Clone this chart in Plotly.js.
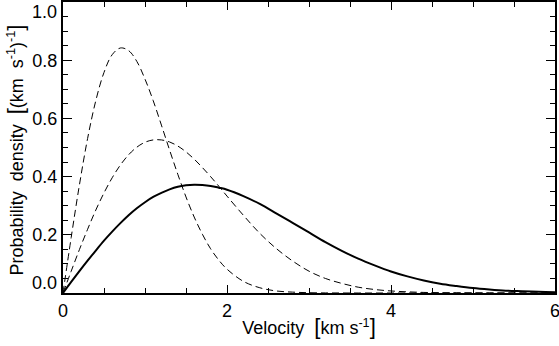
<!DOCTYPE html>
<html>
<head>
<meta charset="utf-8">
<script src="https://cdn.plot.ly/plotly-3.0.1.min.js"></script>
<style>
  body { margin: 0; padding: 0; background: #fff; }
  #plot { width: 559px; height: 346px; }
</style>
</head>
<body>
<div id="plot"></div>
<script>
// velocity grid (km/s)
var velocity = [0, 0.1, 0.2, 0.3, 0.4, 0.5, 0.6, 0.7, 0.8, 0.9, 1.0,
  1.1, 1.2, 1.3, 1.4, 1.5, 1.6, 1.7, 1.8, 1.9, 2.0,
  2.2, 2.4, 2.6, 2.8, 3.0, 3.2, 3.4, 3.6, 3.8, 4.0,
  4.2, 4.4, 4.6, 4.8, 5.0, 5.2, 5.4, 5.6, 5.8, 6.0];

// solid curve (peak ~0.37 at 1.6)
var densSolid = [0, 0.038, 0.075, 0.111, 0.146, 0.180, 0.211, 0.240, 0.267, 0.291, 0.312,
  0.330, 0.344, 0.356, 0.365, 0.370, 0.372, 0.371, 0.368, 0.362, 0.355,
  0.333, 0.306, 0.274, 0.241, 0.208, 0.175, 0.145, 0.118, 0.095, 0.074,
  0.057, 0.043, 0.032, 0.024, 0.017, 0.012, 0.008, 0.006, 0.004, 0.003];

// narrow dashed curve (peak ~0.84 at 0.7)
var densNarrow = [0, 0.191, 0.371, 0.531, 0.661, 0.758, 0.819, 0.842, 0.833, 0.796, 0.735,
  0.661, 0.577, 0.491, 0.408, 0.330, 0.261, 0.202, 0.152, 0.113, 0.082,
  0.040, 0.018, 0.007, 0.003, 0.001, 0.0003, 0.0001, 0, 0, 0,
  0, 0, 0, 0, 0, 0, 0, 0, 0, 0];

// middle dashed curve (peak ~0.53 at 1.15)
var densMiddle = [0, 0.075, 0.149, 0.219, 0.285, 0.344, 0.396, 0.440, 0.475, 0.501, 0.518,
  0.526, 0.526, 0.519, 0.505, 0.485, 0.460, 0.431, 0.400, 0.367, 0.333,
  0.267, 0.205, 0.153, 0.110, 0.075, 0.050, 0.033, 0.020, 0.012, 0.007,
  0.004, 0.002, 0.001, 0.0006, 0.0003, 0.0001, 0, 0, 0, 0];

// y tick labels; the two end labels sit inside the frame like in the original
var yTicks = [0, 0.2, 0.4, 0.6, 0.8, 1.0];
var yTickText = ['', '0.2', '0.4', '0.6', '0.8', ''];

var traces = [
  {x: velocity, y: densNarrow, type: 'scatter', mode: 'lines',
   line: {color: '#000', width: 1, dash: '7px,4px', shape: 'spline'}},
  {x: velocity, y: densMiddle, type: 'scatter', mode: 'lines',
   line: {color: '#000', width: 1, dash: '7px,4px', shape: 'spline'}},
  {x: velocity, y: densSolid, type: 'scatter', mode: 'lines',
   line: {color: '#000', width: 2, shape: 'spline'}}
];

var fam = 'Liberation Sans, Arial, sans-serif';
var big = '<span style="font-size:22px">';

var layout = {
  width: 559, height: 346,
  margin: {l: 63, r: 4, t: 2, b: 53},
  showlegend: false,
  paper_bgcolor: '#fff', plot_bgcolor: '#fff',
  font: {family: fam, size: 18, color: '#000'},
  xaxis: {
    range: [0, 6], dtick: 2, tick0: 0,
    showgrid: false, zeroline: false,
    showline: true, linewidth: 2, linecolor: '#000', mirror: 'allticks',
    ticks: 'inside', ticklen: 8, tickwidth: 1, tickcolor: '#000',
    minor: {dtick: 0.5, ticks: 'inside', ticklen: 5, tickwidth: 1, tickcolor: '#000'},
    tickfont: {size: 18},
    ticklabeloverflow: 'allow',
    title: {text: 'Velocity  ' + big + '[</span>km s<sup>-1</sup>' + big + ']</span>',
            font: {size: 18}, standoff: 2}
  },
  yaxis: {
    range: [0, 1],
    tickmode: 'array', tickvals: yTicks, ticktext: yTickText,
    showgrid: false, zeroline: false,
    showline: true, linewidth: 2, linecolor: '#000', mirror: 'allticks',
    ticks: 'inside', ticklen: 9, tickwidth: 1, tickcolor: '#000',
    minor: {dtick: 0.05, ticks: 'inside', ticklen: 5, tickwidth: 1, tickcolor: '#000'},
    tickfont: {size: 18},
    ticklabeloverflow: 'allow'
  },
  annotations: [
    {xref: 'paper', yref: 'y', x: 0, y: 1.0, xanchor: 'right', yanchor: 'top',
     xshift: -4, yshift: 2, text: '1.0', showarrow: false, font: {size: 18}},
    {xref: 'paper', yref: 'y', x: 0, y: 0, xanchor: 'right', yanchor: 'bottom',
     xshift: -4, yshift: -2, text: '0.0', showarrow: false, font: {size: 18}},
    // y axis title
    {xref: 'paper', yref: 'paper', x: 0, y: 0.49, xanchor: 'center', yanchor: 'middle',
     xshift: -48, textangle: -90, showarrow: false, font: {size: 18},
     text: 'Probability  density  ' + big + '[</span>(km  s<sup>-1</sup>)<sup>-1</sup>' + big + ']</span>'}
  ]
};

Plotly.newPlot('plot', traces, layout, {displayModeBar: false, staticPlot: true});
</script>
</body>
</html>
